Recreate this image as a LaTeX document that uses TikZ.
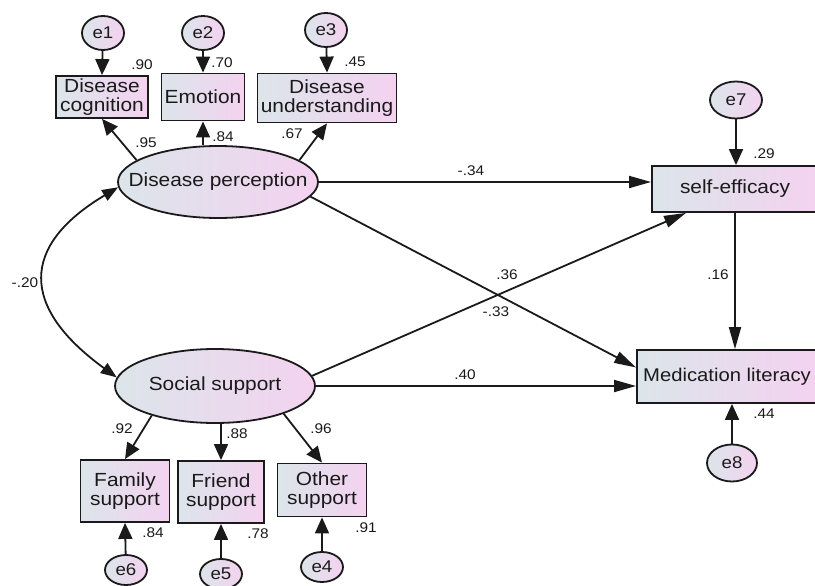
\documentclass[tikz,border=0pt]{standalone}
\usepackage{fontspec}
\setmainfont{Liberation Sans}[FakeStretch=1.1]
\usetikzlibrary{shapes.geometric,arrows.meta,calc}
\definecolor{cl}{HTML}{DCE5EA}
\definecolor{cr}{HTML}{F4D2F0}
\definecolor{ln}{HTML}{1A1A1A}
\tikzset{
 base/.style={draw=ln,line width=1.8pt,left color=cl,right color=cr,inner sep=0pt,align=center,text=ln},
 lat/.style={base,ellipse,inner xsep=-20pt,minimum width=200pt,minimum height=72pt,font=\fontsize{19}{21}\selectfont},
 obs/.style={base,rectangle,font=\fontsize{19}{18.5}\selectfont},
 err/.style={base,ellipse,minimum width=42pt,minimum height=34pt,font=\fontsize{17}{19}\selectfont},
 arr/.style={draw=ln,line width=1.8pt,-{Triangle[length=16pt,width=14pt]}},
 harr/.style={draw=ln,line width=1.8pt,-{Triangle[length=22pt,width=12pt]}},
 cov/.style={draw=ln,line width=1.8pt,{Triangle[length=16pt,width=12pt]}-{Triangle[length=16pt,width=12pt]}},
 num/.style={font=\fontsize{14}{16}\selectfont,text=ln,inner sep=0pt},
}
\begin{document}
\begin{tikzpicture}[x=1pt,y=1pt]
\useasboundingbox (0,0) rectangle (815,-586);
\clip (0,0) rectangle (815,-586);
% error terms top
\node[err] (e1) at (103,-33) {e1};
\node[err] (e2) at (203,-33) {e2};
\node[err] (e3) at (326,-30) {e3};
% indicators top
\node[obs,minimum width=92pt,minimum height=42pt] (dc) at (102,-97) {Disease\\cognition};
\node[obs,minimum width=83pt,minimum height=47pt] (em) at (203,-97) {Emotion};
\node[obs,minimum width=139pt,minimum height=49pt] (du) at (327,-98) {Disease\\understanding};
% latent
\node[lat] (dp) at (218,-182) {Disease perception};
\node[lat,minimum height=74pt] (ss) at (215,-386) {Social support};
% indicators bottom
\node[obs,minimum width=89pt,minimum height=62pt] (fs) at (125,-491) {Family\\support};
\node[obs,minimum width=86pt,minimum height=62pt] (fr) at (221,-492) {Friend\\support};
\node[obs,minimum width=89pt,minimum height=53pt] (os) at (322,-490) {Other\\support};
\node[err,minimum height=30pt] (e6) at (126,-570) {e6};
\node[err,minimum height=30pt] (e5) at (221,-574) {e5};
\node[err,minimum height=30pt] (e4) at (322,-567) {e4};
% outcomes
\node[obs,minimum width=166pt,minimum height=46pt] (se) at (735,-189) {self-efficacy};
\node[obs,minimum width=180pt,minimum height=53pt,font=\fontsize{18.4}{20}\selectfont] (ml) at (727,-376.5) {Medication literacy};
\node[err,minimum width=52pt,minimum height=37pt] (e7) at (736,-100) {e7};
\node[err,minimum width=50pt,minimum height=37pt] (e8) at (732,-463) {e8};
% error arrows
\draw[arr] (e1) -- (dc.north);
\draw[arr] (e2) -- (em.north);
\draw[arr] (e3) -- (du.north);
\draw[arr] (e6) -- (fs.south);
\draw[arr] (e5) -- (fr.south);
\draw[arr] (e4) -- (os.south);
\draw[arr] (e7) -- (e7 |- se.north);
\draw[arr] (e8) -- (e8 |- ml.south);
% loadings
\draw[arr] (dp.165) -- (dc.south);
\draw[arr] (em.south |- dp.north) -- (em.south);
\draw[arr] (dp.15) -- (du.south);
\draw[arr] (ss.205) -- (fs.north);
\draw[arr] (fr.north |- ss.south) -- (fr.north);
\draw[arr] (ss.338) -- (os.north);
% covariance
\draw[cov] (dp.183) .. controls (20,-246) and (20,-307) .. (ss.175);
% structural paths
\draw[harr] (dp.east) -- (dp.east -| se.west);
\draw[harr] (dp.351) -- ([yshift=9pt]ml.west);
\draw[harr] (ss.6) -- (se.206);
\draw[harr] (ss.east) -- (ss.east -| ml.west);
\draw[harr] (se.south) -- (se.south |- ml.north);
% labels
\node[num] (n1) at (142,-65) {.90};
\node[num] (n2) at (222,-63) {.70};
\node[num] (n3) at (355,-62) {.45};
\node[num] (n4) at (146,-143) {.95};
\node[num] (n5) at (223,-137) {.84};
\node[num] (n6) at (292,-134) {.67};
\node[num] (n7) at (25,-283) {-.20};
\node[num] (n8) at (122,-429) {.92};
\node[num] (n9) at (237,-434) {.88};
\node[num] (n10) at (321,-429) {.96};
\node[num] (n11) at (153,-533) {.84};
\node[num] (n12) at (258,-534) {.78};
\node[num] (n13) at (366,-528) {.91};
\node[num] (n14) at (764,-154) {.29};
\node[num] (n15) at (471,-171) {-.34};
\node[num] (n16) at (507,-275) {.36};
\node[num] (n17) at (718,-275) {.16};
\node[num] (n18) at (764,-414) {.44};
\node[num] (n19) at (465,-375) {.40};
\node[num] (n20) at (496,-312) {-.33};
\end{tikzpicture}
\end{document}
